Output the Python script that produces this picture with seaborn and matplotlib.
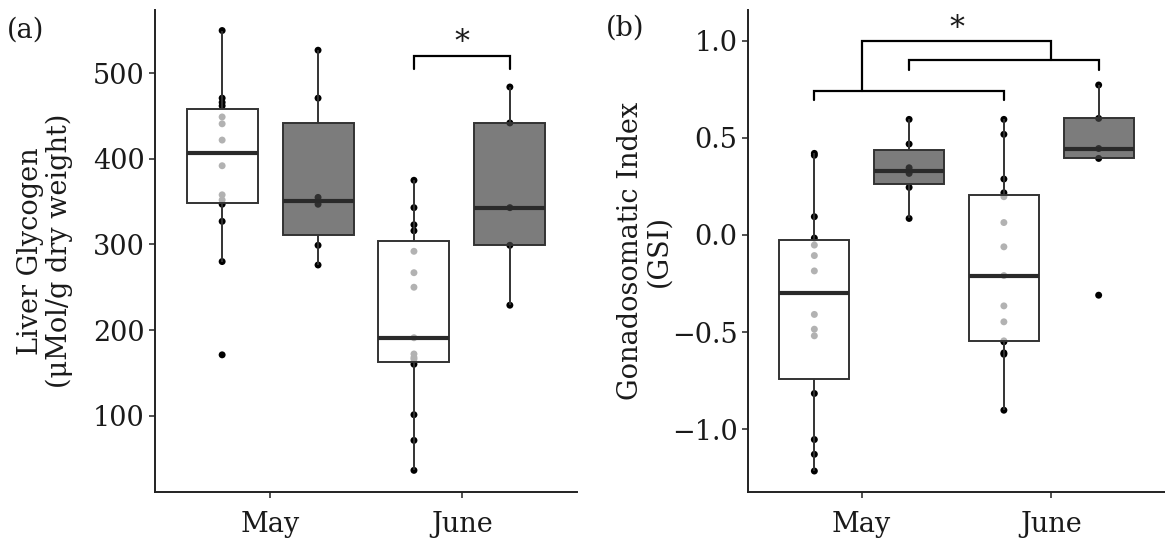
import numpy as np
import pandas as pd
import matplotlib
matplotlib.use("Agg")
import matplotlib.pyplot as plt
import seaborn as sns

# ---------------- data ----------------
months = ["May", "June"]
groups = ["Group A", "Group B"]

glycogen_may_a = [550, 471, 466, 462, 449, 441, 422, 392, 358, 352, 347, 327, 280, 171]
glycogen_may_b = [527, 471, 355, 347, 299, 276]
glycogen_june_a = [375, 343, 323, 316, 292, 267, 250, 191, 172, 168, 166, 160, 101, 71, 36]
glycogen_june_b = [484, 442, 343, 299, 229]

gsi_may_a = [0.42, 0.41, 0.094, -0.016, -0.052, -0.106, -0.185, -0.409, -0.485,
             -0.519, -0.816, -1.053, -1.129, -1.215]
gsi_may_b = [0.595, 0.468, 0.346, 0.317, 0.245, 0.085]
gsi_june_a = [0.595, 0.518, 0.288, 0.217, 0.197, 0.064, -0.061, -0.209, -0.365,
              -0.447, -0.545, -0.55, -0.607, -0.614, -0.902]
gsi_june_b = [0.772, 0.600, 0.445, 0.394, -0.31]

glycogen_ticks = [100, 200, 300, 400, 500]
gsi_ticks = [-1.0, -0.5, 0.0, 0.5, 1.0]

# significance annotations (x in category units, y in data units)
glycogen_bracket = dict(x0=0.75, x1=1.25, y=520, leg=505, star_x=1.0, star_y=527)
gsi_bracket_low = dict(x0=-0.25, x1=0.75, y=0.741, leg=0.694)
gsi_bracket_mid = dict(x0=0.25, x1=1.25, y=0.900, leg=0.849)
gsi_bracket_top = dict(x0=0.0, x1=1.0, y=1.0, star_x=0.5, star_y=1.022)


def make_df(may_a, may_b, june_a, june_b):
    rows = []
    for m, g, vals in [("May", groups[0], may_a), ("May", groups[1], may_b),
                       ("June", groups[0], june_a), ("June", groups[1], june_b)]:
        for v in vals:
            rows.append({"month": m, "group": g, "value": v})
    return pd.DataFrame(rows)


df_gly = make_df(glycogen_may_a, glycogen_may_b, glycogen_june_a, glycogen_june_b)
df_gsi = make_df(gsi_may_a, gsi_may_b, gsi_june_a, gsi_june_b)

# ---------------- style ----------------
sns.set_style("ticks")
FONT = ["DejaVu Serif"]
plt.rcParams["font.family"] = FONT
plt.rcParams["axes.unicode_minus"] = True
TXT = "#1a1a1a"
FS = 19.5

fig = plt.figure(figsize=(11.65, 5.39), dpi=100)
ax1 = fig.add_axes([155 / 1165, 1 - 492 / 539, (577 - 155) / 1165, (492 - 10) / 539])
ax2 = fig.add_axes([748 / 1165, 1 - 492 / 539, (1165 - 748) / 1165, (492 - 10) / 539])


def draw(ax, df):
    sns.stripplot(data=df, x="month", y="value", hue="group", order=months,
                  hue_order=groups, dodge=True, jitter=False,
                  palette=["black", "black"], size=5, linewidth=0,
                  legend=False, ax=ax, zorder=1)
    # widen dodge so the points sit on the box centres (box width=1.0 -> +-0.25)
    for coll in ax.collections:
        off = np.asarray(coll.get_offsets()).copy()
        if len(off) == 0:
            continue
        cx = np.round(off[:, 0])
        off[:, 0] = cx + (off[:, 0] - cx) * 1.25
        coll.set_offsets(off)
    sns.boxplot(data=df, x="month", y="value", hue="group", order=months,
                hue_order=groups, palette=["white", "#454545"], saturation=1,
                width=1.0, gap=0.26, linecolor="#333333", linewidth=1.4,
                showcaps=False, showfliers=False, whis=1.5, legend=False, ax=ax,
                medianprops={"linewidth": 3.0, "color": "#2a2a2a"})
    for p in ax.patches:
        fc = p.get_facecolor()
        p.set_facecolor((fc[0], fc[1], fc[2], 0.7))
        p.set_zorder(2)
    sns.despine(ax=ax)
    for s in ["left", "bottom"]:
        ax.spines[s].set_linewidth(1.4)
        ax.spines[s].set_color("#222222")
    ax.tick_params(axis="both", length=4.5, width=1.2, color="#333333",
                   labelcolor=TXT, labelsize=FS)
    ax.tick_params(axis="x", pad=9)
    ax.tick_params(axis="y", pad=3)
    ax.set_xlabel("")
    ax.set_xlim(-0.6, 1.6)
    for lab in ax.get_xticklabels() + ax.get_yticklabels():
        lab.set_family(FONT)


def bracket(ax, b, leg_left=None, leg_right=None):
    ll = b["leg"] if leg_left is None else leg_left
    lr = b["leg"] if leg_right is None else leg_right
    ax.plot([b["x0"], b["x0"], b["x1"], b["x1"]], [ll, b["y"], b["y"], lr],
            color="black", lw=1.6, solid_joinstyle="miter", zorder=3,
            clip_on=False)


# ---- panel (a)
draw(ax1, df_gly)
ax1.set_ylim(10.7, 574)
ax1.set_yticks(glycogen_ticks)
ax1.set_yticklabels([str(t) for t in glycogen_ticks])
ax1.set_ylabel("Liver Glycogen\n(μMol/g dry weight)", fontsize=FS, color=TXT,
               linespacing=1.05)
ax1.yaxis.set_label_coords(-0.195, 0.5)
bracket(ax1, glycogen_bracket)
ax1.text(glycogen_bracket["star_x"], glycogen_bracket["star_y"], "*",
         ha="center", va="baseline", fontsize=FS + 2, color=TXT)

# ---- panel (b)
draw(ax2, df_gsi)
ax2.set_ylim(-1.323, 1.158)
ax2.set_yticks(gsi_ticks)
ax2.set_yticklabels([f"{t:.1f}".replace("-", "\u2212") for t in gsi_ticks])
ax2.set_ylabel("Gonadosomatic Index\n(GSI)", fontsize=FS, color=TXT,
               linespacing=1.05)
ax2.yaxis.set_label_coords(-0.182, 0.5)
bracket(ax2, gsi_bracket_low)
bracket(ax2, gsi_bracket_mid)
bracket(ax2, gsi_bracket_top, leg_left=gsi_bracket_low["y"],
        leg_right=gsi_bracket_mid["y"])
ax2.text(gsi_bracket_top["star_x"], gsi_bracket_top["star_y"], "*",
         ha="center", va="baseline", fontsize=FS + 2, color=TXT)

fig.text(26 / 1165, 1 - 30 / 539, "(a)", ha="center", va="center",
         fontsize=FS, color=TXT)
fig.text(625 / 1165, 1 - 28 / 539, "(b)", ha="center", va="center",
         fontsize=FS, color=TXT)

fig.savefig("out.png", dpi=100)
